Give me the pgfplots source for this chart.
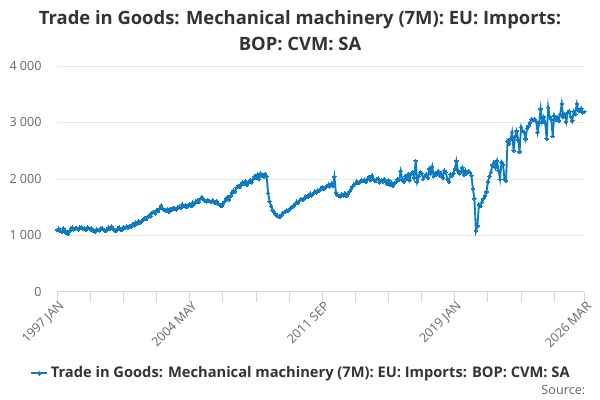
\documentclass[border=0pt]{standalone}
\usepackage{pgfplots}
\pgfplotsset{compat=1.18}
\usepackage{fontspec}
\setmainfont{Open Sans}
\definecolor{linec}{HTML}{0C7BC1}
\definecolor{axisc}{HTML}{CCD6EB}
\definecolor{gridc}{HTML}{E6E6E6}
\definecolor{labc}{HTML}{666666}
\definecolor{titc}{HTML}{333333}
\begin{document}
\begin{tikzpicture}[x=1pt,y=1pt]
\path[fill=white] (0,0) rectangle (450,300);
\node[font=\bfseries\fontsize{13.8}{18.8}\selectfont, text=titc, align=center] at (225,277) {Trade in Goods: Mechanical machinery (7M): EU: Imports:\\BOP: CVM: SA};
\node[font=\fontsize{9.5}{10}\selectfont, text=labc, anchor=east] at (442.5,7.5) {Source:};
\begin{axis}[
  at={(43pt,81pt)}, anchor=south west,
  scale only axis, width=395.25pt, height=169.5pt,
  xmin=0, xmax=350, ymin=0, ymax=4000,
  axis lines*=left,
  x axis line style={draw=axisc, line width=0.75pt, -},
  y axis line style={draw=none},
  ytick={0,1000,2000,3000,4000},
  yticklabels={0,1 000,2 000,3 000,4 000},
  ymajorgrids, grid style={draw=gridc, line width=0.75pt},
  xtick={0,88,176,264,350},
  xticklabels={1997 JAN,2004 MAY,2011 SEP,2019 JAN,2026 MAR},
  minor xtick={22,44,66,110,132,154,198,220,242,286,308,330},
  xtick align=outside, ytick align=inside,
  major tick length=7.5pt, minor tick length=7.5pt,
  xtick style={draw=axisc, line width=0.75pt},
  minor x tick style={draw=axisc, line width=0.75pt},
  ytick style={draw=none},
  yticklabel style={font=\fontsize{9.4}{10}\selectfont, text=labc, anchor=east, inner sep=0pt, xshift=-11.7pt},
  xticklabel style={font=\fontsize{9.4}{10}\selectfont, text=labc, rotate=45, anchor=east, inner sep=0pt, xshift=1.5pt, yshift=-3.5pt},
  legend style={at={(0.463,-0.36)}, anchor=center, draw=none, fill=none,
    font=\bfseries\fontsize{11}{12}\selectfont, text=titc, inner sep=0pt},
  legend image code/.code={\draw[mark repeat=2, mark phase=2] plot coordinates {(0pt,0pt)(6pt,0pt)(12pt,0pt)};},
  clip=false,
]
\addplot[color=linec, line width=1.4pt, mark=*, mark size=1.3pt, mark options={draw=linec, fill=linec, line width=0pt}]
table[row sep=\\, x expr=\coordindex, y index=0, header=false] {
1100\\1120\\1080\\1060\\1130\\1090\\1040\\1030\\1080\\1120\\1140\\1110\\
1120\\1130\\1110\\1140\\1150\\1120\\1130\\1100\\1140\\1130\\1110\\1120\\
1080\\1060\\1110\\1100\\1090\\1130\\1120\\1100\\1080\\1110\\1140\\1120\\
1160\\1110\\1090\\1080\\1120\\1140\\1110\\1100\\1150\\1130\\1160\\1140\\
1170\\1160\\1200\\1180\\1230\\1210\\1250\\1230\\1260\\1280\\1300\\1290\\
1330\\1360\\1340\\1400\\1420\\1390\\1450\\1430\\1480\\1530\\1470\\1450\\
1440\\1460\\1420\\1470\\1450\\1490\\1480\\1460\\1500\\1510\\1490\\1550\\
1520\\1530\\1500\\1540\\1560\\1520\\1580\\1560\\1600\\1620\\1590\\1650\\
1680\\1640\\1620\\1600\\1630\\1610\\1590\\1620\\1600\\1580\\1610\\1560\\
1540\\1520\\1560\\1600\\1650\\1680\\1640\\1700\\1760\\1800\\1780\\1850\\
1880\\1860\\1900\\1940\\1920\\1960\\1900\\1950\\1980\\1940\\2000\\2050\\
2020\\2080\\2000\\2100\\2060\\2040\\2090\\2050\\1750\\1600\\1520\\1450\\
1420\\1380\\1350\\1330\\1340\\1370\\1400\\1420\\1440\\1430\\1460\\1480\\
1500\\1530\\1560\\1600\\1580\\1620\\1650\\1630\\1660\\1700\\1680\\1720\\
1740\\1710\\1750\\1780\\1760\\1800\\1790\\1830\\1860\\1820\\1850\\1880\\
1900\\1870\\1920\\1880\\2040\\1760\\1720\\1700\\1690\\1730\\1710\\1750\\
1700\\1740\\1780\\1820\\1870\\1900\\1920\\1960\\1930\\1950\\1980\\1960\\
1990\\1950\\2000\\2040\\1980\\2060\\2000\\1960\\1990\\2010\\1940\\1980\\
1950\\2000\\1970\\1920\\1980\\1900\\1940\\1880\\1920\\1950\\2000\\1980\\
2140\\2000\\1950\\2050\\2000\\2080\\1980\\2100\\2120\\2020\\2320\\1950\\
2050\\2120\\2100\\2000\\2050\\2080\\2020\\2180\\2100\\2220\\2050\\2100\\
2080\\2140\\2060\\2100\\2020\\2150\\2120\\2000\\1950\\2080\\2060\\2100\\
2180\\2320\\2150\\2100\\2120\\2200\\2080\\2150\\2100\\2130\\2120\\2060\\
1830\\1650\\1080\\1170\\1550\\1520\\1590\\1650\\1700\\1770\\1950\\2050\\
2120\\2250\\2300\\2200\\2320\\2150\\2000\\2300\\2250\\2000\\1970\\2670\\
2620\\2710\\2830\\2500\\2750\\2850\\2700\\2480\\2920\\2850\\2830\\2710\\
2900\\2940\\3000\\3060\\3040\\3060\\3020\\2830\\3000\\3240\\3010\\3100\\
3000\\2710\\3270\\3100\\3060\\2760\\3120\\3050\\3100\\3030\\3150\\3330\\
3100\\3150\\3010\\3180\\3200\\3100\\3030\\3200\\3150\\3330\\3220\\3200\\
3250\\3180\\3190\\
};
\addlegendentry{Trade in Goods: Mechanical machinery (7M): EU: Imports: BOP: CVM: SA}
\end{axis}
\end{tikzpicture}
\end{document}
